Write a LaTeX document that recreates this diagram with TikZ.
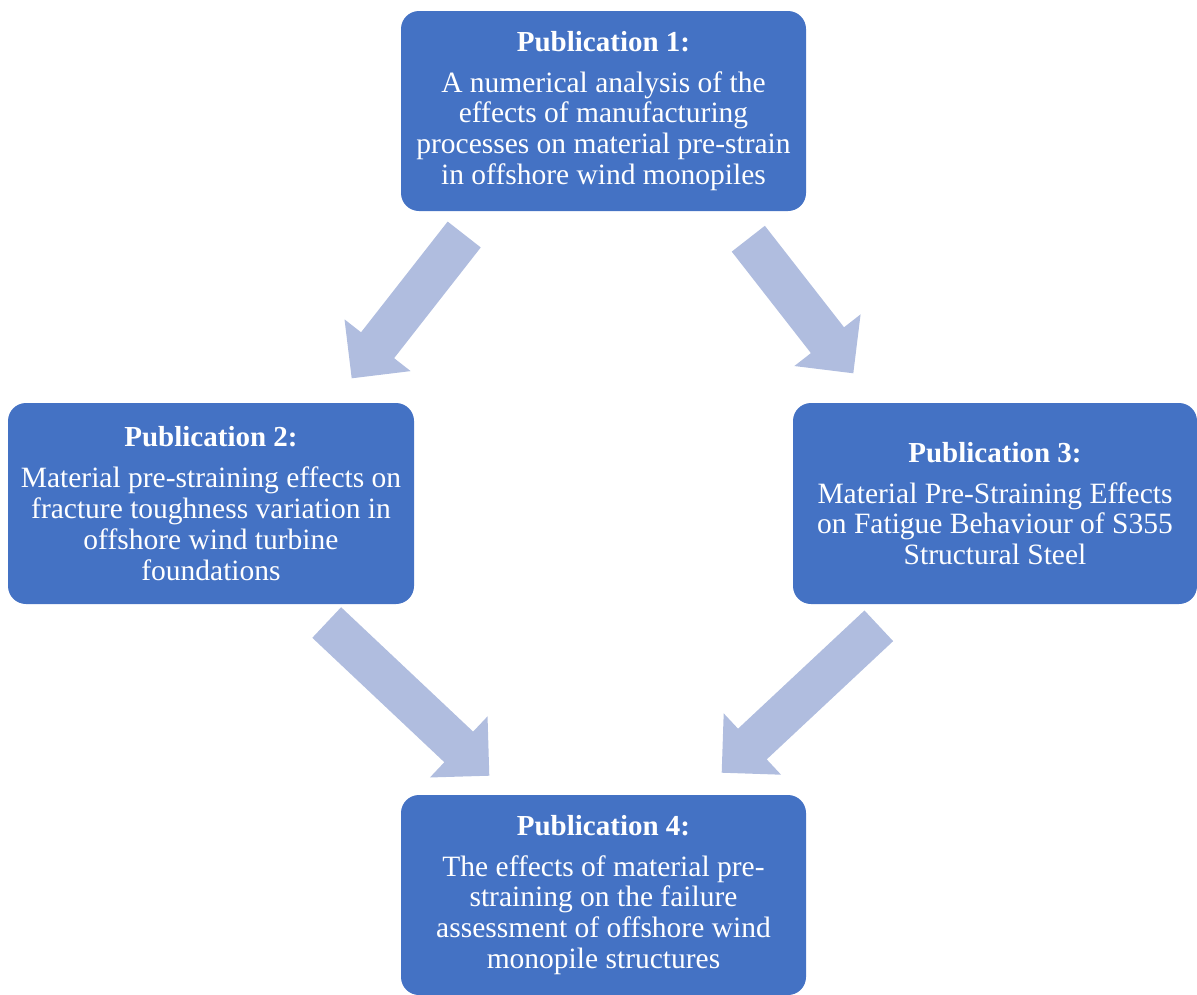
\documentclass[tikz,border=0pt]{standalone}
\usepackage{fontspec}
\setmainfont{Liberation Serif}
\usepackage{tikz}
\usetikzlibrary{calc,positioning}
\definecolor{pubblue}{RGB}{68,114,196}
\definecolor{arrowblue}{RGB}{176,189,223}
% block arrow from tail (#1) to tip (#2)
\newcommand{\blockarrow}[2]{%
	\coordinate (hb) at ($(#2)!42pt!(#1)$);
	\fill[arrowblue] ($(#1)!21pt!90:(#2)$) -- ($(hb)!21pt!90:(#2)$) -- ($(hb)!42pt!90:(#2)$) -- (#2)
		-- ($(hb)!42pt!-90:(#2)$) -- ($(hb)!21pt!-90:(#2)$) -- ($(#1)!21pt!-90:(#2)$) -- cycle;}
\newcommand{\pubtitle}[1]{{\fontsize{29}{30.8}\selectfont\bfseries #1}\\[10pt]}

\begin{document}
\begin{tikzpicture}[x=1pt, y=-1pt,
	pub/.style={rectangle, rounded corners=18pt, fill=pubblue, text=white, minimum width=405pt,
		minimum height=201pt, align=center, inner sep=0pt, font=\fontsize{29.5}{30.8}\selectfont}]
	\useasboundingbox (0,0) rectangle (1197,994);
	\node[pub, minimum height=200pt]	(p1) at (603.5, 111) {\pubtitle{Publication 1:}
		A numerical analysis of the\\effects of manufacturing\\processes on material pre-strain\\in offshore wind monopiles};
	\node[pub, minimum width=406pt]	(p2) at (211, 503.5) {\pubtitle{Publication 2:}
		Material pre-straining effects on\\fracture toughness variation in\\offshore wind turbine\\foundations};
	\node[pub, minimum width=404pt]	(p3) at (995, 503.5) {\pubtitle{Publication 3:}
		Material Pre-Straining Effects\\on Fatigue Behaviour of S355\\Structural Steel};
	\node[pub, minimum height=200pt]	(p4) at (603.5, 895) {\pubtitle{Publication 4:}
		The effects of material pre-\\straining on the failure\\assessment of offshore wind\\monopile structures};
	\coordinate (t12) at (464.2, 234.5);	\coordinate (h12) at (351.7, 378.3);
	\coordinate (t13) at (748.3, 238.7);	\coordinate (h13) at (853.3, 373.3);
	\coordinate (t24) at (326.7, 622.5);	\coordinate (h24) at (489.3, 775.7);
	\coordinate (t34) at (878.8, 625.8);	\coordinate (h34) at (721.7, 772.7);
	\blockarrow{t12}{h12}
	\blockarrow{t13}{h13}
	\blockarrow{t24}{h24}
	\blockarrow{t34}{h34}
\end{tikzpicture}
\end{document}
